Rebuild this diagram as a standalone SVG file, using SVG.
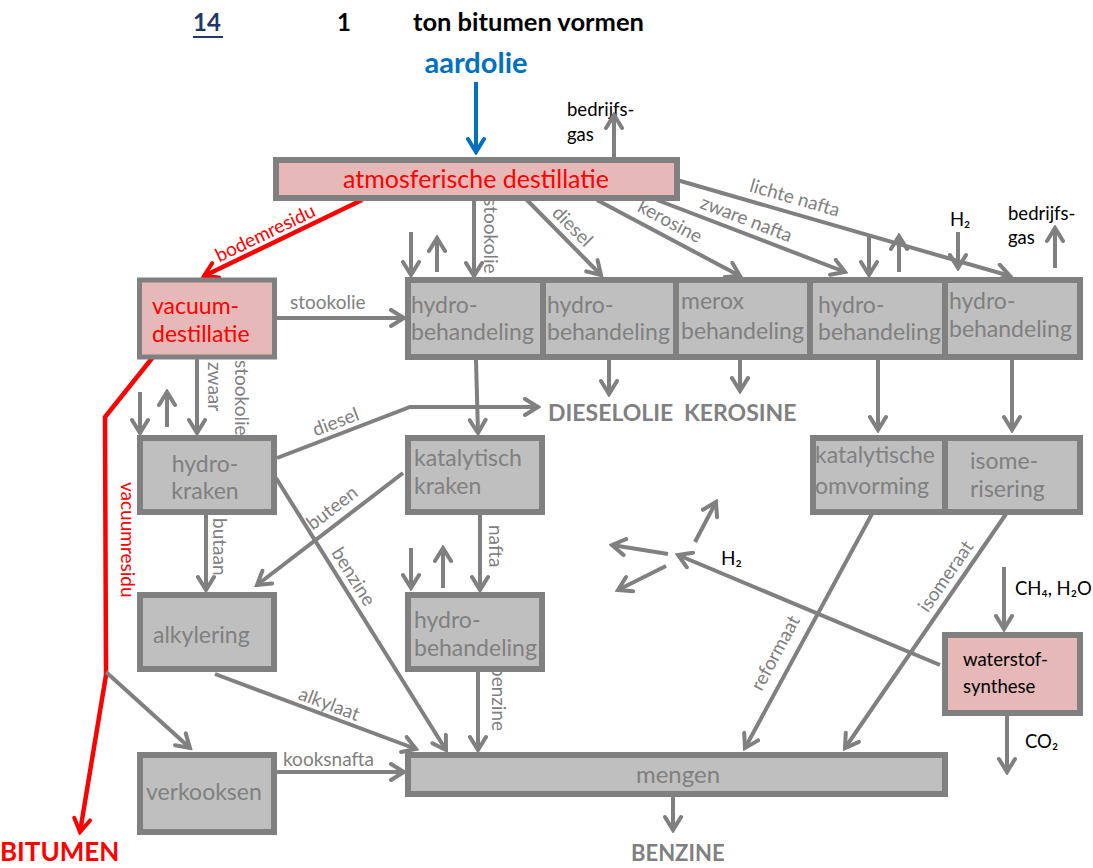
<svg xmlns="http://www.w3.org/2000/svg" width="1093" height="868" viewBox="0 0 1093 868">
<defs>
<marker id="ag" viewBox="0 0 20 20" markerWidth="20" markerHeight="20" refX="17" refY="10" orient="auto" markerUnits="userSpaceOnUse"><path d="M4,2 L17,10 L4,18" fill="none" stroke="#808080" stroke-width="4" stroke-linecap="round"/></marker>
<marker id="ar" viewBox="0 0 20 20" markerWidth="20" markerHeight="20" refX="17" refY="10" orient="auto" markerUnits="userSpaceOnUse"><path d="M4,2 L17,10 L4,18" fill="none" stroke="#ff0000" stroke-width="4" stroke-linecap="round"/></marker>
<marker id="ab" viewBox="0 0 20 20" markerWidth="20" markerHeight="20" refX="17" refY="10" orient="auto" markerUnits="userSpaceOnUse"><path d="M4,2 L17,10 L4,18" fill="none" stroke="#0070c0" stroke-width="4" stroke-linecap="round"/></marker>
<style>
text{font-family:Lato,"Liberation Sans","DejaVu Sans",sans-serif}
.c{fill:none;stroke:#808080;stroke-width:4;marker-end:url(#ag)}
.r{fill:none;stroke:#ff0000;stroke-width:4.5}
.box{fill:#bfbfbf;stroke:#808080;stroke-width:6}
.pink{fill:#e6b8b7;stroke:#808080;stroke-width:6}
.t{font-size:23px;fill:#808080}
.tr{font-size:23px;fill:#ff0000}
.tk{font-size:18.6px;fill:#000}
.l{font-size:19px;fill:#808080}
.lr{font-size:19px;fill:#ff0000}
.lk{font-size:18.5px;fill:#000}
.b{font-size:23px;font-weight:bold;fill:#808080}
</style>
</defs>
<rect width="1093" height="868" fill="#fff"/>
<g id="title">
<text x="193" y="31" style="font-size:24px;font-weight:bold;fill:#1f3864">14</text>
<line x1="193" y1="37" x2="223" y2="37" stroke="#1f3864" stroke-width="2"/>
<text x="337" y="31" style="font-size:24px;font-weight:bold;fill:#000">1</text>
<text x="413" y="31" style="font-size:25.5px;font-weight:bold;fill:#000">ton bitumen vormen</text>
</g>
<g id="connectors">
<text x="476" y="73" text-anchor="middle" style="font-size:29px;font-weight:bold;fill:#0070c0">aardolie</text>
<line x1="476" y1="82" x2="476" y2="152" stroke="#0070c0" stroke-width="4" marker-end="url(#ab)"/>
<text x="567" y="116" class="lk">bedrijfs-</text>
<text x="567" y="141" class="lk">gas</text>
<line class="c" x1="614" y1="157" x2="614" y2="115"/>
<line class="c" x1="474" y1="198" x2="474" y2="276"/>
<text class="l" transform="translate(484,198) rotate(90)">stookolie</text>
<line class="c" x1="525" y1="198" x2="601" y2="275"/>
<text class="l" text-anchor="middle" transform="translate(568,231) rotate(45)">diesel</text>
<line class="c" x1="597" y1="200" x2="740" y2="276"/>
<text class="l" text-anchor="middle" transform="translate(667,227) rotate(28)">kerosine</text>
<line class="c" x1="657" y1="200" x2="845" y2="272"/>
<text class="l" text-anchor="middle" transform="translate(744,225) rotate(21)">zware nafta</text>
<line class="c" x1="677" y1="180" x2="1010" y2="276"/>
<text class="l" text-anchor="middle" transform="translate(793,204) rotate(16)">lichte nafta</text>
<line class="c" x1="411" y1="232" x2="411" y2="275"/>
<line class="c" x1="437" y1="272" x2="437" y2="238"/>
<line class="c" x1="869" y1="237" x2="869" y2="275"/>
<line class="c" x1="899" y1="272" x2="899" y2="236"/>
<text x="950" y="226" class="lk">H₂</text>
<line class="c" x1="958" y1="232" x2="958" y2="268"/>
<text x="1008" y="220" class="lk">bedrijfs-</text>
<text x="1008" y="244" class="lk">gas</text>
<line class="c" x1="1055" y1="268" x2="1055" y2="228"/>
<line class="r" x1="362" y1="200" x2="204" y2="276" marker-end="url(#ar)"/>
<text class="lr" text-anchor="middle" transform="translate(268,239) rotate(-25.7)">bodemresidu</text>
<line class="c" x1="277" y1="318" x2="404" y2="318"/>
<text x="290" y="309" class="l">stookolie</text>
<line class="c" x1="197" y1="357" x2="197" y2="433"/>
<text class="l" transform="translate(208,362) rotate(90)">zwaar</text>
<text class="l" transform="translate(235,360) rotate(90)">stookolie</text>
<line class="c" x1="140" y1="392" x2="140" y2="433"/>
<line class="c" x1="167" y1="427" x2="167" y2="392"/>
<polyline class="r" points="153,357 105,417 106,675 80,832" marker-end="url(#ar)"/>
<text class="lr" transform="translate(121,482) rotate(90)">vacuumresidu</text>
<line class="c" x1="106" y1="672" x2="190" y2="748"/>
<line class="c" x1="476" y1="360" x2="478" y2="433"/>
<line class="c" x1="609" y1="360" x2="609" y2="394"/>
<line class="c" x1="740" y1="360" x2="740" y2="391"/>
<line class="c" x1="878" y1="360" x2="878" y2="430"/>
<line class="c" x1="1012" y1="360" x2="1012" y2="430"/>
<polyline class="c" points="277,458 410,407 538,407"/>
<text class="l" text-anchor="middle" transform="translate(338,428) rotate(-21)">diesel</text>
<line class="c" x1="206" y1="514" x2="206" y2="590"/>
<text class="l" transform="translate(213,518) rotate(90)">butaan</text>
<line class="c" x1="276" y1="478" x2="446" y2="750"/>
<text class="l" text-anchor="middle" transform="translate(348,580) rotate(58)">benzine</text>
<line class="c" x1="403" y1="473" x2="257" y2="585"/>
<text class="l" text-anchor="middle" transform="translate(336,513) rotate(-37.5)">buteen</text>
<line class="c" x1="480" y1="514" x2="480" y2="590"/>
<text class="l" transform="translate(489,525) rotate(90)">nafta</text>
<line class="c" x1="411" y1="548" x2="411" y2="588"/>
<line class="c" x1="443" y1="588" x2="443" y2="548"/>
<line class="c" x1="478" y1="672" x2="478" y2="750"/>
<text class="l" transform="translate(492,666) rotate(90)">benzine</text>
<line class="c" x1="215" y1="674" x2="416" y2="749"/>
<text class="l" text-anchor="middle" transform="translate(327,710) rotate(20.5)">alkylaat</text>
<line class="c" x1="277" y1="772" x2="404" y2="772"/>
<text x="283" y="766" class="l">kooksnafta</text>
<line class="c" x1="873" y1="512" x2="745" y2="748"/>
<text class="l" text-anchor="middle" transform="translate(781,656) rotate(-61.5)">reformaat</text>
<line class="c" x1="1006" y1="514" x2="845" y2="748"/>
<text class="l" text-anchor="middle" transform="translate(951,580) rotate(-55.3)">isomeraat</text>
<line class="c" x1="940" y1="665" x2="678" y2="555"/>
<text x="721" y="565" style="font-size:19px;fill:#000">H₂</text>
<line class="c" x1="668" y1="554" x2="612" y2="545"/>
<line class="c" x1="666" y1="566" x2="618" y2="590"/>
<line class="c" x1="695" y1="542" x2="716" y2="502"/>
<line class="c" x1="1004" y1="567" x2="1004" y2="629"/>
<text x="1015" y="595" class="lk">CH₄, H₂O</text>
<line class="c" x1="1007" y1="716" x2="1007" y2="772"/>
<text x="1025" y="748" class="lk">CO₂</text>
<line class="c" x1="673" y1="797" x2="673" y2="830"/>
<text x="548" y="421" class="b">DIESELOLIE</text>
<text x="684" y="421" class="b">KEROSINE</text>
<text x="631" y="861" class="b" style="font-size:22px">BENZINE</text>
<text x="0" y="861" style="font-size:26px;font-weight:bold;fill:#ff0000">BITUMEN</text>
</g>
<g id="atmos"><rect class="pink" x="276" y="160" width="401" height="38"/><text x="476" y="188" text-anchor="middle" class="tr" style="font-size:25px">atmosferische destillatie</text></g>
<g id="hb1"><rect class="box" x="408" y="280" width="135" height="77"/><text x="411" y="313" class="t">hydro-</text><text x="411" y="340" class="t">behandeling</text></g>
<g id="hb2"><rect class="box" x="543" y="280" width="133" height="77"/><text x="547" y="313" class="t">hydro-</text><text x="547" y="340" class="t">behandeling</text></g>
<g id="merox"><rect class="box" x="676" y="280" width="134" height="77"/><text x="681" y="309" class="t">merox</text><text x="681" y="339" class="t">behandeling</text></g>
<g id="hb4"><rect class="box" x="810" y="280" width="135" height="77"/><text x="818" y="313" class="t">hydro-</text><text x="818" y="340" class="t">behandeling</text></g>
<g id="hb5"><rect class="box" x="945" y="280" width="135" height="77"/><text x="949" y="309" class="t">hydro-</text><text x="949" y="337" class="t">behandeling</text></g>
<g id="vacuum"><rect class="pink" x="139.5" y="280" width="135" height="77" style="stroke-width:5"/><text x="152" y="314" class="tr">vacuum-</text><text x="152" y="342" class="tr">destillatie</text></g>
<g id="hydrokraken"><rect class="box" x="140" y="438" width="134" height="74"/><text x="205" y="472" text-anchor="middle" class="t">hydro-</text><text x="205" y="499" text-anchor="middle" class="t">kraken</text></g>
<g id="katkraken"><rect class="box" x="408" y="438" width="134" height="74"/><text x="414" y="466" class="t">katalytisch</text><text x="414" y="494" class="t">kraken</text></g>
<g id="alkylering"><rect class="box" x="140" y="595" width="134" height="74"/><text x="153" y="643" class="t">alkylering</text></g>
<g id="hb6"><rect class="box" x="408" y="595" width="134" height="74"/><text x="414" y="628" class="t">hydro-</text><text x="414" y="656" class="t">behandeling</text></g>
<g id="katomv"><rect class="box" x="813" y="438" width="132" height="74"/><text x="815" y="463" class="t">katalytische</text><text x="815" y="494" class="t">omvorming</text></g>
<g id="isom"><rect class="box" x="945" y="438" width="135" height="74"/><text x="970" y="469" class="t">isome-</text><text x="970" y="497" class="t">risering</text></g>
<g id="waterstof"><rect class="pink" x="945" y="635" width="135" height="78"/><text x="963" y="666" class="tk">waterstof-</text><text x="963" y="693" class="tk">synthese</text></g>
<g id="verkooksen"><rect class="box" x="140" y="755" width="134" height="77"/><text x="146" y="800" class="t">verkooksen</text></g>
<g id="mengen"><rect class="box" x="408" y="755" width="537" height="39"/><text x="678" y="783" text-anchor="middle" class="t" style="font-size:24px">mengen</text></g>
</svg>
